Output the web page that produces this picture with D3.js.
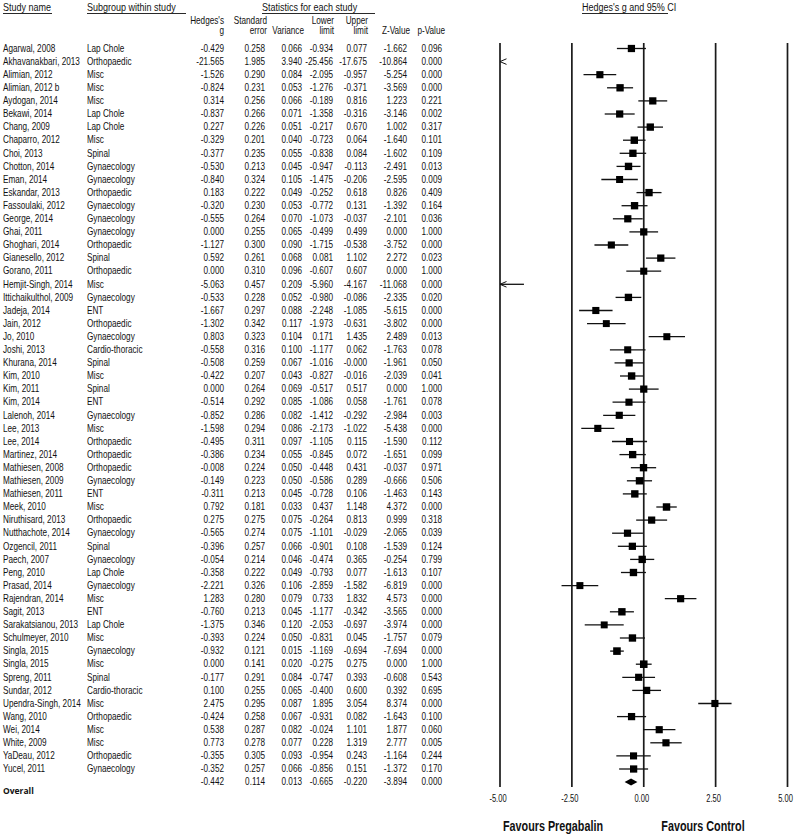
<!DOCTYPE html>
<html><head><meta charset="utf-8">
<script src="https://cdn.jsdelivr.net/npm/d3@7/dist/d3.min.js"></script>
<style>
body{margin:0;background:#fff;}
svg text{font-family:'Liberation Sans',Arial,sans-serif;fill:#111;}
</style></head>
<body><svg id="c" width="800" height="836"></svg>
<script>
const names = ["Agarwal, 2008","Akhavanakbari, 2013","Alimian, 2012","Alimian, 2012 b","Aydogan, 2014","Bekawi, 2014","Chang, 2009","Chaparro, 2012","Choi, 2013","Chotton, 2014","Eman, 2014","Eskandar, 2013","Fassoulaki, 2012","George, 2014","Ghai, 2011","Ghoghari, 2014","Gianesello, 2012","Gorano, 2011","Hemjit-Singh, 2014","Ittichaikulthol, 2009","Jadeja, 2014","Jain, 2012","Jo, 2010","Joshi, 2013","Khurana, 2014","Kim, 2010","Kim, 2011","Kim, 2014","Lalenoh, 2014","Lee, 2013","Lee, 2014","Martinez, 2014","Mathiesen, 2008","Mathiesen, 2009","Mathiesen, 2011","Meek, 2010","Niruthisard, 2013","Nutthachote, 2014","Ozgencil, 2011","Paech, 2007","Peng, 2010","Prasad, 2014","Rajendran, 2014","Sagit, 2013","Sarakatsianou, 2013","Schulmeyer, 2010","Singla, 2015","Singla, 2015","Spreng, 2011","Sundar, 2012","Upendra-Singh, 2014","Wang, 2010","Wei, 2014","White, 2009","YaDeau, 2012","Yucel, 2011"];
const subgroups = ["Lap Chole","Orthopaedic","Misc","Misc","Misc","Lap Chole","Lap Chole","Misc","Spinal","Gynaecology","Gynaecology","Orthopaedic","Gynaecology","Gynaecology","Gynaecology","Orthopaedic","Spinal","Orthopaedic","Misc","Gynaecology","ENT","Orthopaedic","Gynaecology","Cardio-thoracic","Spinal","Misc","Spinal","ENT","Gynaecology","Misc","Orthopaedic","Orthopaedic","Orthopaedic","Gynaecology","ENT","Misc","Orthopaedic","Gynaecology","Spinal","Gynaecology","Lap Chole","Gynaecology","Misc","ENT","Lap Chole","Misc","Gynaecology","Misc","Spinal","Cardio-thoracic","Misc","Orthopaedic","Misc","Misc","Orthopaedic","Gynaecology"];
const hedgesG = [-0.429,-21.565,-1.526,-0.824,0.314,-0.837,0.227,-0.329,-0.377,-0.530,-0.840,0.183,-0.320,-0.555,0.000,-1.127,0.592,0.000,-5.063,-0.533,-1.667,-1.302,0.803,-0.558,-0.508,-0.422,0.000,-0.514,-0.852,-1.598,-0.495,-0.386,-0.008,-0.149,-0.311,0.792,0.275,-0.565,-0.396,-0.054,-0.358,-2.221,1.283,-0.760,-1.375,-0.393,-0.932,0.000,-0.177,0.100,2.475,-0.424,0.538,0.773,-0.355,-0.352];
const stdErr = [0.258,1.985,0.290,0.231,0.256,0.266,0.226,0.201,0.235,0.213,0.324,0.222,0.230,0.264,0.255,0.300,0.261,0.310,0.457,0.228,0.297,0.342,0.323,0.316,0.259,0.207,0.264,0.292,0.286,0.294,0.311,0.234,0.224,0.223,0.213,0.181,0.275,0.274,0.257,0.214,0.222,0.326,0.280,0.213,0.346,0.224,0.121,0.141,0.291,0.255,0.295,0.258,0.287,0.278,0.305,0.257];
const variance = [0.066,3.940,0.084,0.053,0.066,0.071,0.051,0.040,0.055,0.045,0.105,0.049,0.053,0.070,0.065,0.090,0.068,0.096,0.209,0.052,0.088,0.117,0.104,0.100,0.067,0.043,0.069,0.085,0.082,0.086,0.097,0.055,0.050,0.050,0.045,0.033,0.075,0.075,0.066,0.046,0.049,0.106,0.079,0.045,0.120,0.050,0.015,0.020,0.084,0.065,0.087,0.067,0.082,0.077,0.093,0.066];
const lowerLimit = [-0.934,-25.456,-2.095,-1.276,-0.189,-1.358,-0.217,-0.723,-0.838,-0.947,-1.475,-0.252,-0.772,-1.073,-0.499,-1.715,0.081,-0.607,-5.960,-0.980,-2.248,-1.973,0.171,-1.177,-1.016,-0.827,-0.517,-1.086,-1.412,-2.173,-1.105,-0.845,-0.448,-0.586,-0.728,0.437,-0.264,-1.101,-0.901,-0.474,-0.793,-2.859,0.733,-1.177,-2.053,-0.831,-1.169,-0.275,-0.747,-0.400,1.895,-0.931,-0.024,0.228,-0.954,-0.856];
const upperLimit = [0.077,-17.675,-0.957,-0.371,0.816,-0.316,0.670,0.064,0.084,-0.113,-0.206,0.618,0.131,-0.037,0.499,-0.538,1.102,0.607,-4.167,-0.086,-1.085,-0.631,1.435,0.062,-0.0004,-0.016,0.517,0.058,-0.292,-1.022,0.115,0.072,0.431,0.289,0.106,1.148,0.813,-0.029,0.108,0.365,0.077,-1.582,1.832,-0.342,-0.697,0.045,-0.694,0.275,0.393,0.600,3.054,0.082,1.101,1.319,0.243,0.151];
const zValue = [-1.662,-10.864,-5.254,-3.569,1.223,-3.146,1.002,-1.640,-1.602,-2.491,-2.595,0.826,-1.392,-2.101,0.000,-3.752,2.272,0.000,-11.068,-2.335,-5.615,-3.802,2.489,-1.763,-1.961,-2.039,0.000,-1.761,-2.984,-5.438,-1.590,-1.651,-0.037,-0.666,-1.463,4.372,0.999,-2.065,-1.539,-0.254,-1.613,-6.819,4.573,-3.565,-3.974,-1.757,-7.694,0.000,-0.608,0.392,8.374,-1.643,1.877,2.777,-1.164,-1.372];
const pValue = [0.096,0.000,0.000,0.000,0.221,0.002,0.317,0.101,0.109,0.013,0.009,0.409,0.164,0.036,1.000,0.000,0.023,1.000,0.000,0.020,0.000,0.000,0.013,0.078,0.050,0.041,1.000,0.078,0.003,0.000,0.112,0.099,0.971,0.506,0.143,0.000,0.318,0.039,0.124,0.799,0.107,0.000,0.000,0.000,0.000,0.079,0.000,1.000,0.543,0.695,0.000,0.100,0.060,0.005,0.244,0.170];
const overall = {g:-0.442, se:0.114, v:0.013, lo:-0.665, hi:-0.220, z:-3.894, p:0.000};
const axisTicks = [-5, -2.5, 0, 2.5, 5];
const tickLabels = ["-5.00","-2.50","0.00","2.50","5.00"];
const favourLabels = ["Favours Pregabalin","Favours Control"];
const titles = ["Study name","Subgroup within study","Statistics for each study","Hedges's g and 95% CI"];
const colHead = [["Hedges's","g"],["Standard","error"],["","Variance"],["Lower","limit"],["Upper","limit"],["","Z-Value"],["","p-Value"]];

const svg = d3.select("#c");
const n = names.length;
const fmt = v => v.toFixed(3);
const y = d3.scaleLinear().domain([0, n]).range([48.5, 48.5 + n*13.1]);
const x = d3.scaleLinear().domain([-5, 5]).range([500, 787.5]);

// condensed text helper
function T(parent, tx, ty, str, o = {}) {
  const t = parent.append("text")
    .attr("transform", `translate(${tx},${ty}) scale(${o.sx ?? 0.82},1)`)
    .attr("font-size", o.size ?? 10)
    .attr("text-anchor", o.anchor ?? "start")
    .text(str);
  if (o.weight) t.attr("font-weight", o.weight);
  if (o.baseline) t.attr("dominant-baseline", o.baseline);
  return t;
}

// headers
const hdr = svg.append("g");
[[0,3,52],[1,87,186],[2,262,375],[3,582,668]].forEach(([k,x0,x1])=>{
  T(hdr, x0, 11, titles[k], {size:11});
  hdr.append("line").attr("x1",x0).attr("x2",x1).attr("y1",13.5).attr("y2",13.5).attr("stroke","#111").attr("stroke-width",0.9);
});
const colX = [224,265,302,333,367,407,442];
const headX = [224,267,304,334,368,410,445];
colHead.forEach((h,i)=>{
  T(hdr, headX[i], 24, h[0], {anchor:"end"});
  T(hdr, headX[i], 34, h[1], {anchor:"end"});
});

// rows
const cols = [hedgesG, stdErr, variance, lowerLimit, upperLimit, zValue, pValue];
const rows = svg.append("g");
names.forEach((nm,i)=>{
  T(rows, 3, y(i), nm, {baseline:"central"});
  T(rows, 87, y(i), subgroups[i], {baseline:"central"});
  cols.forEach((c,j)=>T(rows, colX[j], y(i), fmt(c[i]), {anchor:"end", baseline:"central"}));
});
const ov = [overall.g, overall.se, overall.v, overall.lo, overall.hi, overall.z, overall.p];
ov.forEach((v,j)=>T(rows, colX[j], y(n), fmt(v), {anchor:"end", baseline:"central"}));
svg.append("text").attr("x",3).attr("y",y(n)+8).attr("dominant-baseline","central")
  .attr("font-size",8.5).attr("font-weight","bold").style("font-family","'Open Sans',sans-serif").text("Overall");

// plot gridlines
const plot = svg.append("g");
axisTicks.forEach((t,i)=>{
  plot.append("line").attr("x1",x(t)).attr("x2",x(t)).attr("y1",43).attr("y2",787)
    .attr("stroke","#1a1a1a").attr("stroke-width",1.7);
  T(plot, x(t)-2, 799, tickLabels[i], {anchor:"middle", baseline:"central", size:10.5, sx:0.72});
});

// study marks
const wts = variance.map(v=>1/(v+0.5));
const wmax = d3.max(wts);
const sz = d3.scaleSqrt().domain([0,wmax]).range([0,7.6]);
const chevron = yy => `M${x(-5)+6.5},${yy-2.8}L${x(-5)},${yy}L${x(-5)+6.5},${yy+2.8}`;
names.forEach((nm,i)=>{
  const yy = y(i);
  const lo = lowerLimit[i], hi = upperLimit[i], g = hedgesG[i];
  if (hi < -5) {
    plot.append("path").attr("d",chevron(yy)).attr("fill","none").attr("stroke","#111").attr("stroke-width",1);
    return;
  }
  const a = Math.max(lo,-5), b = Math.min(hi,5);
  plot.append("line").attr("x1",x(a)).attr("x2",x(b)).attr("y1",yy).attr("y2",yy)
    .attr("stroke","#111").attr("stroke-width",1.3);
  if (lo < -5) {
    plot.append("path").attr("d",chevron(yy)).attr("fill","none").attr("stroke","#111").attr("stroke-width",1);
  }
  if (g >= -5 && g <= 5) {
    const s = sz(wts[i]);
    plot.append("rect").attr("x",x(g)-s/2).attr("y",yy-s/2).attr("width",s).attr("height",s).attr("fill","#000");
  }
});
// overall diamond
const yo = y(n);
plot.append("path").attr("d",`M${x(overall.lo)},${yo}L${x(overall.g)},${yo-3.5}L${x(overall.hi)},${yo}L${x(overall.g)},${yo+3.5}Z`).attr("fill","#000");

// favours
T(svg, 553, 831, favourLabels[0], {anchor:"middle", size:15, weight:"bold", sx:0.72});
T(svg, 703, 831, favourLabels[1], {anchor:"middle", size:15, weight:"bold", sx:0.72});
</script></body></html>
